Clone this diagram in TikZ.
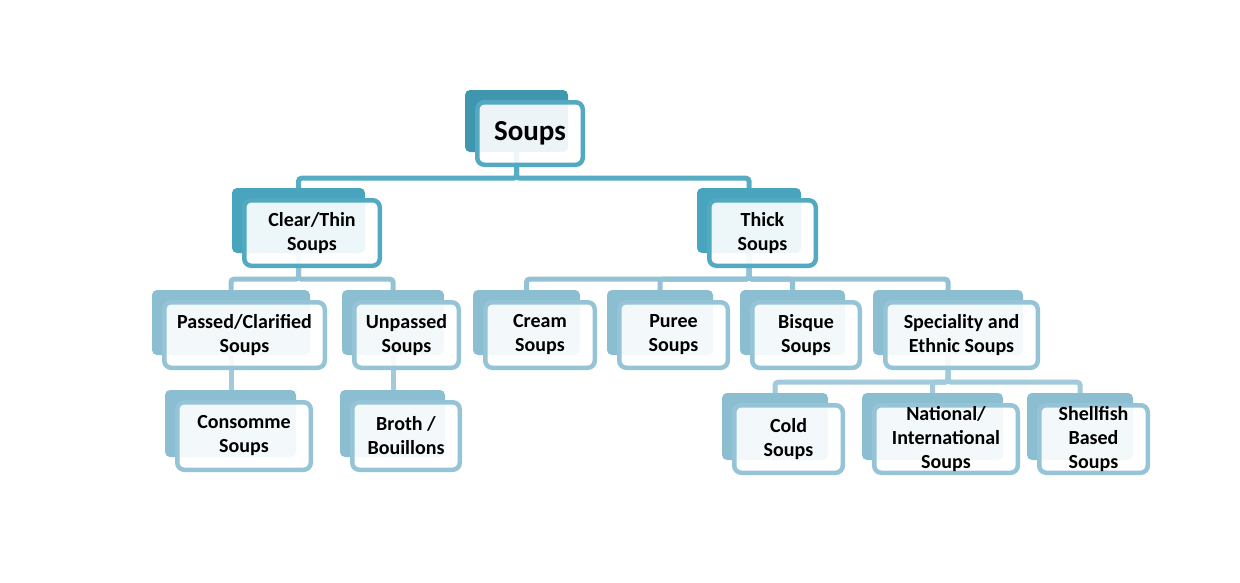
\documentclass[tikz,border=0pt]{standalone}
\usepackage{fontspec}
\setmainfont{Carlito}
\usetikzlibrary{positioning}

\definecolor{darkback}{HTML}{3F97AF}
\definecolor{darkline}{HTML}{52A9C0}
\definecolor{tealback}{HTML}{49A5BE}
\definecolor{tealline}{HTML}{52AAC2}
\definecolor{paleback}{HTML}{8BBED1}
\definecolor{paleline}{HTML}{95C4D6}
\definecolor{topbus}{HTML}{56ADC3}
\definecolor{midbus}{HTML}{92C2D4}
\definecolor{lowbus}{HTML}{A2CADA}

\pgfdeclarelayer{paper}
\pgfdeclarelayer{backs}
\pgfdeclarelayer{links}
\pgfsetlayers{paper,backs,links,main}

\tikzset{
  backbox/.style={fill=#1, rounded corners=5pt, inner sep=0pt},
  frontbox/.style={draw=#1, line width=4.5pt, rounded corners=7pt, fill=white,
    fill opacity=0.9, text opacity=1, align=center, inner sep=0pt,
    font=\fontsize{20}{24}\selectfont\bfseries},
  bus/.style={draw=#1, line width=5pt, rounded corners=3pt}
}

% one box: name, centre x, centre y, outer width, outer height, colour, text
\newcommand{\soupbox}[7]{%
  \begin{pgfonlayer}{backs}
    \node[backbox=#6back, minimum width={(#4-7)*1pt}, minimum height={(#5-5)*1pt}] (#1-b) at (#2-13.5,#3-12.5) {};
  \end{pgfonlayer}
  \node[frontbox=#6line, minimum width={(#4-4.5)*1pt}, minimum height={(#5-4.5)*1pt}] (#1) at (#2,#3) {#7};
}

\begin{document}
\begin{tikzpicture}[x=1pt,y=-1pt]
  \begin{pgfonlayer}{paper}
    \fill[white] (0,0) rectangle (1240,582);
  \end{pgfonlayer}
  \useasboundingbox (0,0) rectangle (1240,582);

  % top level
  \soupbox{soups}{530}{133.5}{110}{67}{dark}{\fontsize{29}{32}\selectfont Soups}

  % second level
  \soupbox{clear}{312}{233}{140}{70}{teal}{Clear/Thin\\Soups}
  \soupbox{thick}{762.5}{233}{111}{70}{teal}{Thick\\Soups}

  % third level
  \soupbox{passed}{244.5}{335}{165}{70}{pale}{Passed/Clarified\\Soups}
  \soupbox{unpassed}{406.5}{335}{109}{70}{pale}{Unpassed\\Soups}
  \soupbox{cream}{540}{335}{114}{70}{pale}{Cream\\Soups}
  \soupbox{puree}{673.5}{335}{113}{70}{pale}{Puree\\Soups}
  \soupbox{bisque}{806}{335}{112}{70}{pale}{Bisque\\Soups}
  \soupbox{special}{961.5}{335}{157}{70}{pale}{Speciality and\\Ethnic Soups}

  % bottom level
  \soupbox{consomme}{244}{436}{138}{72}{pale}{Consomme\\Soups}
  \soupbox{broth}{406}{436}{112}{72}{pale}{Broth /\\Bouillons}
  \soupbox{cold}{788.5}{439}{113}{72}{pale}{Cold\\Soups}
  \soupbox{national}{946}{439}{148}{72}{pale}{National/\\International\\Soups}
  \soupbox{shellfish}{1093.5}{439}{113}{72}{pale}{Shellfish\\Based\\Soups}

  % connectors
  \begin{pgfonlayer}{links}
    \foreach \kid in {clear,thick}
      \draw[bus=topbus] (soups-b.south) -- ++(0,26) -| (\kid-b.north);
    \foreach \kid in {passed,unpassed}
      \draw[bus=midbus] (clear-b.south) -- ++(0,26) -| (\kid-b.north);
    \foreach \kid in {cream,puree,bisque,special}
      \draw[bus=midbus] (thick-b.south) -- ++(0,26) -| (\kid-b.north);
    \draw[bus=lowbus] (passed-b.south) -- (passed-b.south |- consomme-b.north);
    \draw[bus=lowbus] (unpassed-b.south) -- (unpassed-b.south |- broth-b.north);
    \foreach \kid in {cold,national,shellfish}
      \draw[bus=lowbus] (special-b.south) -- ++(0,27) -| (\kid-b.north);
  \end{pgfonlayer}
\end{tikzpicture}
\end{document}
